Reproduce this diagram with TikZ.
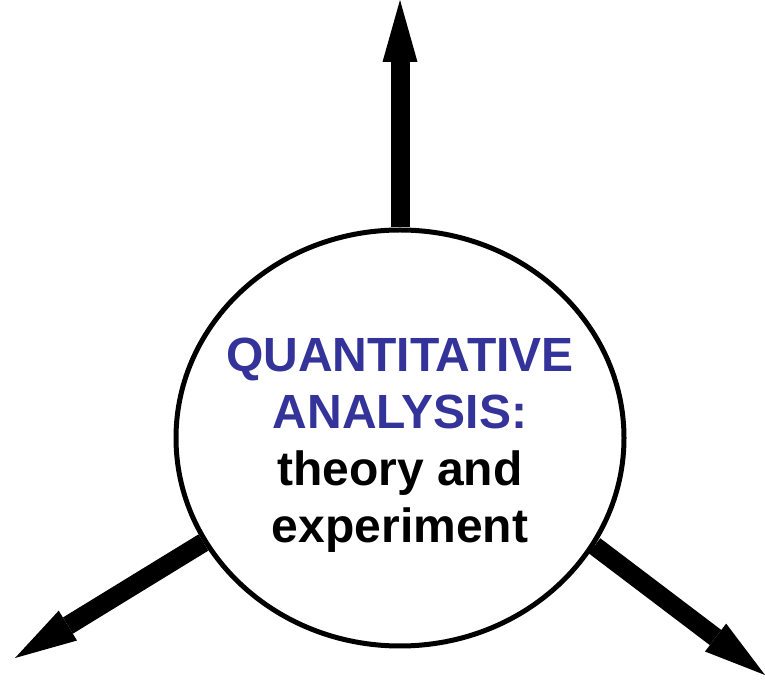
\documentclass[tikz,border=0pt]{standalone}
\usepackage{fontspec}
\setmainfont{Liberation Sans}
\usetikzlibrary{arrows.meta,shapes.geometric,backgrounds}
\definecolor{navy}{HTML}{333399}

\begin{document}
\begin{tikzpicture}[x=1pt,y=1pt,
              hub/.style={ellipse,draw=black,line width=5pt,fill=white,
                minimum width=448pt,minimum height=416pt,inner sep=0pt},
              caption/.style={align=center,font=\fontsize{48}{57}\selectfont\bfseries},
              spoke/.style={line width=19pt,-{Triangle[length=62pt,width=35pt,line width=0pt]}}]
              \useasboundingbox (0,0) rectangle (765,682);
              \node[hub] (core) at (400,244) {};
              \node[caption] (words) at (400,237) {\textcolor{navy}{QUANTITATIVE}\\
                \textcolor{navy}{ANALYSIS:}\\theory and\\experiment};
              \coordinate (up) at (400,682);
              \coordinate (lowleft) at (15,24);
              \coordinate (lowright) at (765,7);
              \begin{scope}[on background layer]
              \draw[spoke] (core.north) -- (up);
              \draw[spoke] (core.208) -- (lowleft);
              \draw[spoke] (core.331) -- (lowright);
              \end{scope}
            \end{tikzpicture}
\end{document}
